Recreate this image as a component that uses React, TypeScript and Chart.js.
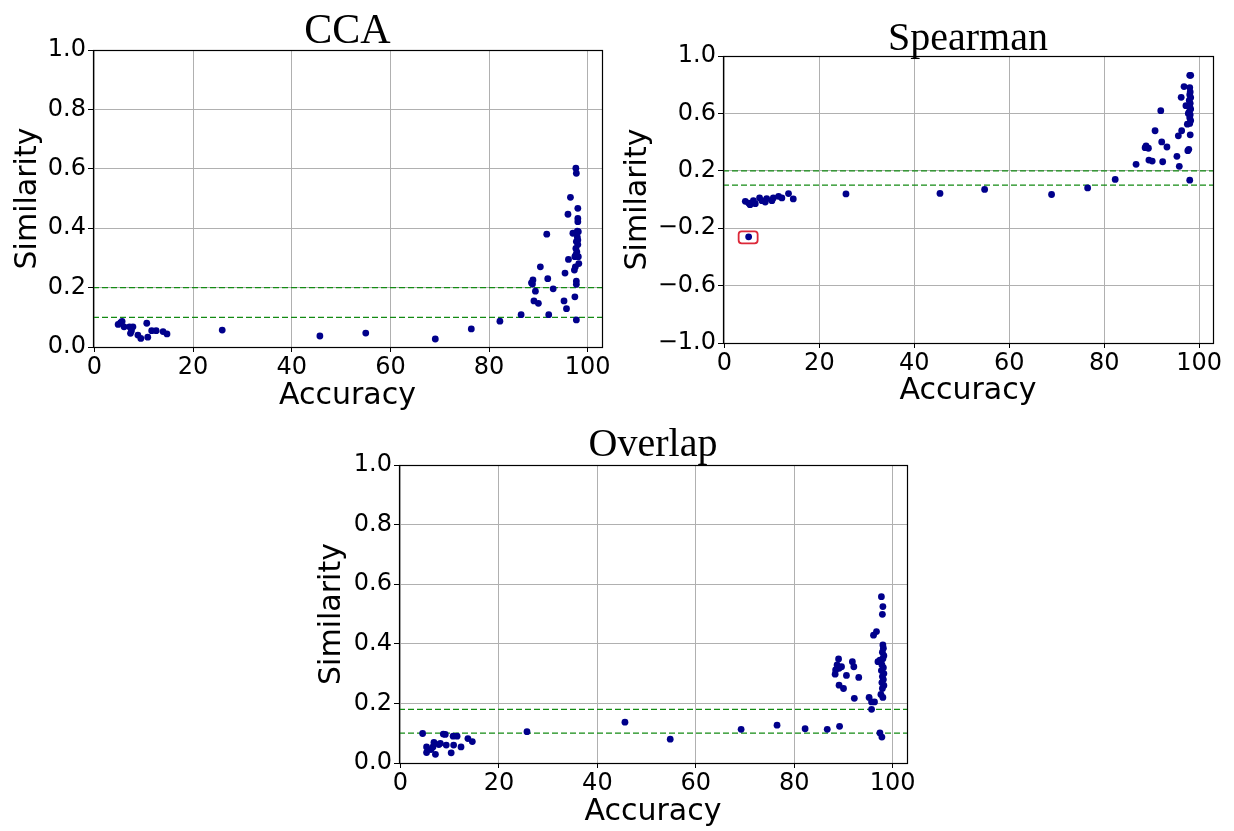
import React, { useEffect, useRef } from "react";
import { Chart, registerables } from "chart.js";

Chart.register(...registerables);

// ---------- axis limits / ticks ----------
const X_MIN = -0.3;
const X_MAX = 102.9;
const X_STEP = 20;
const CCA_Y_RANGE = [0, 1];
const SPEARMAN_Y_RANGE = [-1, 1];
const OVERLAP_Y_RANGE = [0, 1];
const CCA_Y_STEP = 0.2;
const SPEARMAN_Y_STEP = 0.4;
const OVERLAP_Y_STEP = 0.2;

// ---------- thresholds (dashed green lines) ----------
const CCA_THRESHOLDS = [0.2, 0.1];
const SPEARMAN_THRESHOLDS = [0.2, 0.1];
const OVERLAP_THRESHOLDS = [0.18, 0.1];

// ---------- CCA ----------
const CCA_X = [
  4.8, 5.3, 5.6, 6.0, 7.1, 7.8, 7.5, 7.3, 8.8, 9.4, 10.6, 10.8, 11.6, 12.5, 13.9, 14.7,
  25.9, 45.7, 55.0, 69.1, 76.4, 82.2, 86.5,
  88.6, 88.9, 88.8, 89.4, 89.1, 90.0, 90.4, 91.7, 91.9, 92.1, 93.0, 95.2, 95.4, 95.7,
  96.0, 96.1, 96.5, 97.4, 97.6, 97.7, 97.7, 97.7, 97.7, 97.0, 98.0, 98.0, 98.0, 98.1,
  97.9, 97.7, 98.0, 97.6, 97.8, 97.4, 98.1, 98.2, 97.5, 97.3, 97.9, 97.6, 98.0,
];
const CCA_Y = [
  0.076, 0.082, 0.086, 0.068, 0.068, 0.068, 0.055, 0.046, 0.040, 0.029, 0.080, 0.033, 0.055, 0.055, 0.052, 0.044,
  0.057, 0.037, 0.047, 0.027, 0.061, 0.087, 0.109,
  0.216, 0.226, 0.212, 0.188, 0.155, 0.147, 0.270, 0.380, 0.230, 0.109, 0.196, 0.155, 0.249, 0.129,
  0.447, 0.295, 0.504, 0.169, 0.602, 0.585, 0.091, 0.222, 0.211, 0.383, 0.467, 0.433, 0.422, 0.388,
  0.370, 0.355, 0.345, 0.332, 0.320, 0.304, 0.304, 0.281, 0.270, 0.259, 0.390, 0.310, 0.360,
];

// ---------- Spearman ----------
const SPEARMAN_X = [
  4.4, 5.1, 5.4, 6.1, 6.5, 7.4, 7.9, 8.6, 8.9, 10.0, 10.3, 11.4, 12.1, 13.5, 14.5, 5.1,
  25.6, 45.4, 54.8, 68.9, 76.5, 82.3, 86.7,
  88.6, 88.8, 89.3, 89.4, 90.1, 90.7, 91.9, 92.1, 92.3, 93.2, 95.3, 95.6, 95.8, 96.2,
  96.3, 96.8, 97.2, 97.5, 97.8, 97.6, 98.0, 98.2, 98.0, 98.1, 98.0, 98.1, 98.0, 98.2,
  97.9, 98.1, 98.0, 98.2, 97.9, 98.1, 98.0, 98.2, 97.7, 98.0,
];
const SPEARMAN_Y = [
  -0.013, -0.025, -0.036, -0.008, -0.029, 0.011, -0.008, -0.018, 0.006, -0.008, 0.011, 0.022, 0.011, 0.041, 0.004, -0.26,
  0.039, 0.042, 0.07, 0.035, 0.081, 0.14, 0.245,
  0.361, 0.373, 0.357, 0.275, 0.268, 0.479, 0.619, 0.401, 0.263, 0.366, 0.301, 0.444, 0.231, 0.712,
  0.479, 0.787, 0.654, 0.525, 0.350, 0.340, 0.865, 0.865, 0.135, 0.451, 0.78, 0.75, 0.73, 0.71,
  0.69, 0.67, 0.65, 0.63, 0.61, 0.59, 0.57, 0.55, 0.60, 0.53,
];
const SPEARMAN_OUTLIER = { x: 5.1, y: -0.26 };

// ---------- Overlap ----------
const OVERLAP_X = [
  4.5, 5.3, 5.3, 6.2, 6.8, 7.1, 6.6, 7.8, 8.1, 8.7, 9.1, 9.3, 10.3, 10.7, 11.5, 10.8, 12.3, 13.7, 14.6,
  25.7, 45.6, 54.8, 69.2, 76.5, 82.2, 86.7,
  89.2, 89.0, 88.7, 89.6, 88.4, 89.1, 88.3, 91.8, 92.1, 90.6, 93.1, 89.1, 90.0, 92.2, 95.2, 95.7,
  96.3, 95.7, 97.7, 98.0, 97.9, 96.7, 96.1, 98.0, 98.1, 97.9, 98.2, 98.0, 97.4, 97.0, 97.8, 98.1,
  97.7, 98.2, 97.9, 98.1, 97.8, 98.2, 97.9, 97.6, 98.0, 97.4, 97.8,
];
const OVERLAP_Y = [
  0.099, 0.054, 0.035, 0.045, 0.069, 0.029, 0.054, 0.062, 0.066, 0.097, 0.096, 0.06, 0.034, 0.09, 0.09, 0.06, 0.054, 0.082, 0.072,
  0.105, 0.137, 0.08, 0.113, 0.127, 0.115, 0.113,
  0.123, 0.349, 0.329, 0.323, 0.312, 0.318, 0.298, 0.34, 0.323, 0.294, 0.287, 0.261, 0.25, 0.217, 0.22, 0.205,
  0.205, 0.18, 0.558, 0.525, 0.499, 0.441, 0.429, 0.396, 0.385, 0.372, 0.36, 0.35, 0.345, 0.34, 0.33, 0.32,
  0.31, 0.3, 0.29, 0.28, 0.27, 0.26, 0.25, 0.23, 0.22, 0.101, 0.087,
];

const POINT_COLOR = "#00008b";
const LINE_COLOR = "#138a13";
const GRID_COLOR = "#b0b0b0";

type PanelSpec = {
  key: string;
  title: string;
  xs: number[];
  ys: number[];
  thresholds: number[];
  yRange: number[];
  yStep: number;
  left: number;
  top: number;
  w: number;
  h: number;
  padL: number;
  padR: number;
  padT: number;
  padB: number;
  yWidth: number;
  xHeight: number;
  titleSize: number;
  titleBaseline: number;
  outlier?: { x: number; y: number };
};

const framePlugin = {
  id: "frame",
  afterDraw(chart: any) {
    const { ctx, chartArea } = chart;
    ctx.save();
    ctx.strokeStyle = "#000";
    ctx.lineWidth = 1.2;
    ctx.strokeRect(
      Math.round(chartArea.left) + 0.5,
      Math.round(chartArea.top) + 0.5,
      Math.round(chartArea.right - chartArea.left),
      Math.round(chartArea.bottom - chartArea.top)
    );
    ctx.restore();
  },
};

// Title centred over the plot area (as matplotlib does)
const panelTitlePlugin = {
  id: "panelTitle",
  afterDraw(chart: any, _args: any, opts: any) {
    if (!opts || !opts.text) return;
    const { ctx, chartArea } = chart;
    ctx.save();
    ctx.fillStyle = "#000";
    ctx.font = `${opts.size}px 'Liberation Serif', 'Times New Roman', serif`;
    ctx.textAlign = "center";
    ctx.textBaseline = "alphabetic";
    ctx.fillText(opts.text, (chartArea.left + chartArea.right) / 2, opts.baseline);
    ctx.restore();
  },
};

const outlierBoxPlugin = {
  id: "outlierBox",
  afterDatasetsDraw(chart: any, _args: any, opts: any) {
    if (!opts || !opts.point) return;
    const { ctx, scales } = chart;
    const px = scales.x.getPixelForValue(opts.point.x);
    const py = scales.y.getPixelForValue(opts.point.y);
    const w = 19;
    const h = 12;
    ctx.save();
    ctx.strokeStyle = "#dc2838";
    ctx.lineWidth = 1.8;
    ctx.beginPath();
    (ctx as any).roundRect(px - w / 2 - 0.5, py - h / 2 + 0.5, w, h, 3);
    ctx.stroke();
    ctx.restore();
  },
};

const fmtY = (v: number) => {
  const s = Number(v).toFixed(1);
  return s.startsWith("-") ? "\u2212" + s.slice(1) : s;
};

function buildConfig(p: PanelSpec): any {
  const tickFont = { family: "'DejaVu Sans'", size: 24 };
  const labelFont = { family: "'DejaVu Sans'", size: 30, lineHeight: 1.2 };
  return {
    type: "scatter",
    data: {
      datasets: [
        ...p.thresholds.map((t) => ({
          type: "line",
          data: [
            { x: X_MIN, y: t },
            { x: X_MAX, y: t },
          ],
          borderColor: LINE_COLOR,
          borderWidth: 1.2,
          borderDash: [6, 3],
          pointRadius: 0,
          showLine: true,
          fill: false,
          order: 2,
        })),
        {
          type: "scatter",
          data: p.xs.map((x, i) => ({ x, y: p.ys[i] })),
          backgroundColor: POINT_COLOR,
          borderColor: POINT_COLOR,
          borderWidth: 0,
          pointRadius: 3.4,
          order: 0,
        },
      ],
    },
    options: {
      responsive: false,
      animation: false,
      devicePixelRatio: 1,
      layout: { padding: { left: p.padL, right: p.padR, top: p.padT, bottom: p.padB } },
      plugins: {
        legend: { display: false },
        tooltip: { enabled: false },
        title: { display: false },
        panelTitle: { text: p.title, size: p.titleSize, baseline: p.titleBaseline },
        outlierBox: { point: p.outlier },
      },
      scales: {
        x: {
          type: "linear",
          min: X_MIN,
          max: X_MAX,
          ticks: {
            stepSize: X_STEP,
            includeBounds: false,
            color: "#000",
            font: tickFont,
            padding: 1,
            maxRotation: 0,
            callback: (v: number) => String(Math.round(v)),
          },
          grid: { color: GRID_COLOR, lineWidth: 1, tickColor: "#000", tickLength: 5 },
          border: { display: false },
          title: { display: true, text: "Accuracy", color: "#000", font: labelFont, padding: 0 },
          afterFit: (s: any) => {
            s.height = p.xHeight;
          },
        },
        y: {
          type: "linear",
          min: p.yRange[0],
          max: p.yRange[1],
          ticks: {
            stepSize: p.yStep,
            color: "#000",
            font: tickFont,
            padding: 2,
            callback: (v: number) => fmtY(v),
          },
          grid: { color: GRID_COLOR, lineWidth: 1, tickColor: "#000", tickLength: 5 },
          border: { display: false },
          title: { display: true, text: "Similarity", color: "#000", font: labelFont, padding: 0 },
          afterFit: (s: any) => {
            s.width = p.yWidth;
          },
        },
      },
    },
    plugins: [framePlugin, outlierBoxPlugin, panelTitlePlugin],
  };
}

const PANELS: PanelSpec[] = [
  {
    key: "cca",
    title: "CCA",
    xs: CCA_X,
    ys: CCA_Y,
    thresholds: CCA_THRESHOLDS,
    yRange: CCA_Y_RANGE,
    yStep: CCA_Y_STEP,
    left: 0,
    top: 0,
    w: 620,
    h: 420,
    padL: 10,
    padR: 18,
    padT: 50,
    padB: 6,
    yWidth: 83,
    xHeight: 67,
    titleSize: 42,
    titleBaseline: 43,
  },
  {
    key: "spearman",
    title: "Spearman",
    xs: SPEARMAN_X,
    ys: SPEARMAN_Y,
    thresholds: SPEARMAN_THRESHOLDS,
    yRange: SPEARMAN_Y_RANGE,
    yStep: SPEARMAN_Y_STEP,
    left: 620,
    top: 0,
    w: 614,
    h: 420,
    padL: 0,
    padR: 21,
    padT: 56,
    padB: 11,
    yWidth: 103,
    xHeight: 66,
    titleSize: 40,
    titleBaseline: 50,
    outlier: SPEARMAN_OUTLIER,
  },
  {
    key: "overlap",
    title: "Overlap",
    xs: OVERLAP_X,
    ys: OVERLAP_Y,
    thresholds: OVERLAP_THRESHOLDS,
    yRange: OVERLAP_Y_RANGE,
    yStep: OVERLAP_Y_STEP,
    left: 300,
    top: 420,
    w: 620,
    h: 411,
    padL: 14,
    padR: 13,
    padT: 45,
    padB: 1,
    yWidth: 85,
    xHeight: 67,
    titleSize: 40,
    titleBaseline: 36,
  },
];

function Panel({ spec }: { spec: PanelSpec }) {
  const ref = useRef<HTMLCanvasElement>(null);
  useEffect(() => {
    if (!ref.current) return;
    const chart = new Chart(ref.current, buildConfig(spec));
    return () => chart.destroy();
  }, [spec]);
  return (
    <canvas
      ref={ref}
      width={spec.w}
      height={spec.h}
      style={{ position: "absolute", left: spec.left, top: spec.top, width: spec.w, height: spec.h }}
    />
  );
}

export default function App() {
  return (
    <div style={{ position: "absolute", left: 0, top: 0, width: 1234, height: 831, background: "#fff" }}>
      {PANELS.map((p) => (
        <Panel key={p.key} spec={p} />
      ))}
    </div>
  );
}
